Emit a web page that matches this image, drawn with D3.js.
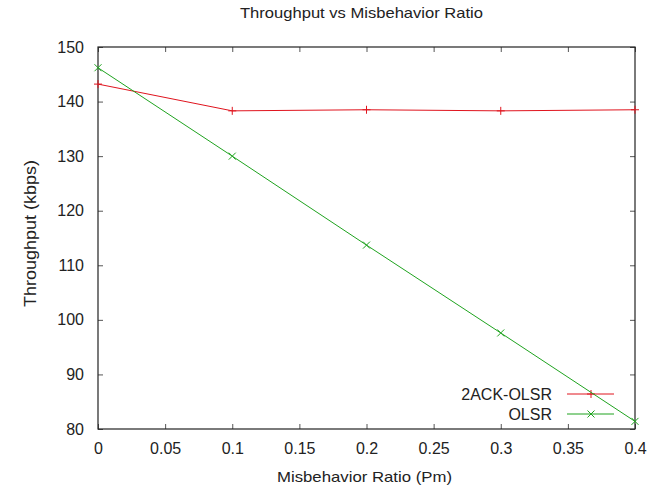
<!DOCTYPE html>
<html>
<head>
<meta charset="utf-8">
<script src="https://cdn.jsdelivr.net/npm/d3@7"></script>
<style>
  body { margin: 0; background: #fff; }
  text { font-family: "Liberation Sans", Arial, sans-serif; fill: #222; }
</style>
</head>
<body>
<div id="chart"></div>
<script>
var w = 658;
var h = 488;
// plot frame
var padLeft = 98, padRight = 635, padTop = 47, padBottom = 429;

// data
var ratios = [0, 0.1, 0.2, 0.3, 0.4];
var ackOlsr = [143.2, 138.3, 138.5, 138.3, 138.5];
var olsr = [146.2, 130.0, 113.7, 97.6, 81.4];
var xTicks = [0, 0.05, 0.1, 0.15, 0.2, 0.25, 0.3, 0.35, 0.4];
var yTicks = [80, 90, 100, 110, 120, 130, 140, 150];

var series = [
    { name: "2ACK-OLSR", values: ackOlsr, color: "#e0141e", marker: "plus" },
    { name: "OLSR", values: olsr, color: "#1fa31f", marker: "cross" }
];

var xScale = d3.scaleLinear().domain([0, 0.4]).range([padLeft, padRight]);
var yScale = d3.scaleLinear().domain([80, 150]).range([padBottom, padTop]);

var svg = d3.select("#chart")
    .append("svg")
    .attr("width", w)
    .attr("height", h);

// title and axis labels
svg.append("text")
    .attr("x", 361.5).attr("y", 18)
    .attr("text-anchor", "middle")
    .attr("textLength", 243).attr("lengthAdjust", "spacingAndGlyphs")
    .style("font-size", "15px")
    .text("Throughput vs Misbehavior Ratio");

svg.append("text")
    .attr("x", 364.5).attr("y", 482)
    .attr("text-anchor", "middle")
    .attr("textLength", 175).attr("lengthAdjust", "spacingAndGlyphs")
    .style("font-size", "15px")
    .text("Misbehavior Ratio (Pm)");

svg.append("text")
    .attr("transform", "translate(36, 233.5) rotate(-90)")
    .attr("text-anchor", "middle")
    .attr("textLength", 147).attr("lengthAdjust", "spacingAndGlyphs")
    .style("font-size", "16px")
    .text("Throughput (kbps)");

// axes with inward ticks, mirrored on top/right
var xAxis = d3.axisBottom(xScale).tickValues(xTicks).tickSizeInner(-5).tickSizeOuter(0).tickPadding(14)
    .tickFormat(function (d) { return String(+d.toFixed(2)); });
var yAxis = d3.axisLeft(yScale).tickValues(yTicks).tickSizeInner(-5).tickSizeOuter(0).tickPadding(14);

var gx = svg.append("g").attr("transform", "translate(0," + padBottom + ")").call(xAxis);
var gy = svg.append("g").attr("transform", "translate(" + padLeft + ",0)").call(yAxis);
[gx, gy].forEach(function (g) {
    g.select(".domain").remove();
    g.selectAll(".tick line").attr("stroke", "#555");
    g.selectAll(".tick text").style("font-size", "16px").attr("fill", "#2a2a2a")
        .style("font-family", "'Liberation Sans', Arial, sans-serif");
});

svg.append("g").attr("transform", "translate(0," + padTop + ")")
    .call(d3.axisTop(xScale).tickValues(xTicks).tickSizeInner(-5).tickSizeOuter(0).tickFormat(""))
    .call(function (g) { g.select(".domain").remove(); g.selectAll("line").attr("stroke", "#555"); });
svg.append("g").attr("transform", "translate(" + padRight + ",0)")
    .call(d3.axisRight(yScale).tickValues(yTicks).tickSizeInner(-5).tickSizeOuter(0).tickFormat(""))
    .call(function (g) { g.select(".domain").remove(); g.selectAll("line").attr("stroke", "#555"); });

// frame
svg.append("rect")
    .attr("x", padLeft).attr("y", padTop)
    .attr("width", padRight - padLeft).attr("height", padBottom - padTop)
    .attr("fill", "none").attr("stroke", "#222").attr("stroke-width", 1.2);

function markerPath(type, s) {
    if (type === "plus") return "M" + (-s) + ",0H" + s + "M0," + (-s) + "V" + s;
    return "M" + (-s) + "," + (-s) + "L" + s + "," + s + "M" + (-s) + "," + s + "L" + s + "," + (-s);
}

var line = d3.line()
    .x(function (d, i) { return xScale(ratios[i]); })
    .y(function (d) { return yScale(d); });

series.forEach(function (s, k) {
    svg.append("path")
        .datum(s.values)
        .attr("fill", "none")
        .attr("stroke", s.color)
        .attr("stroke-width", 1)
        .attr("d", line);

    svg.selectAll(".m" + k)
        .data(s.values)
        .enter().append("path")
        .attr("class", "m" + k)
        .attr("transform", function (d, i) { return "translate(" + xScale(ratios[i]) + "," + yScale(d) + ")"; })
        .attr("d", markerPath(s.marker, s.marker === "plus" ? 4 : 3.5))
        .attr("stroke", s.color)
        .attr("fill", "none");

    // legend
    var ly = 394 + k * 20;
    svg.append("text")
        .attr("x", 552).attr("y", ly + 6)
        .attr("text-anchor", "end")
        .style("font-size", "16px")
        .text(s.name);
    svg.append("line")
        .attr("x1", 567).attr("x2", 614)
        .attr("y1", ly).attr("y2", ly)
        .attr("stroke", s.color);
    svg.append("path")
        .attr("transform", "translate(591," + ly + ")")
        .attr("d", markerPath(s.marker, s.marker === "plus" ? 4 : 3.5))
        .attr("stroke", s.color)
        .attr("fill", "none");
});
</script>
</body>
</html>
